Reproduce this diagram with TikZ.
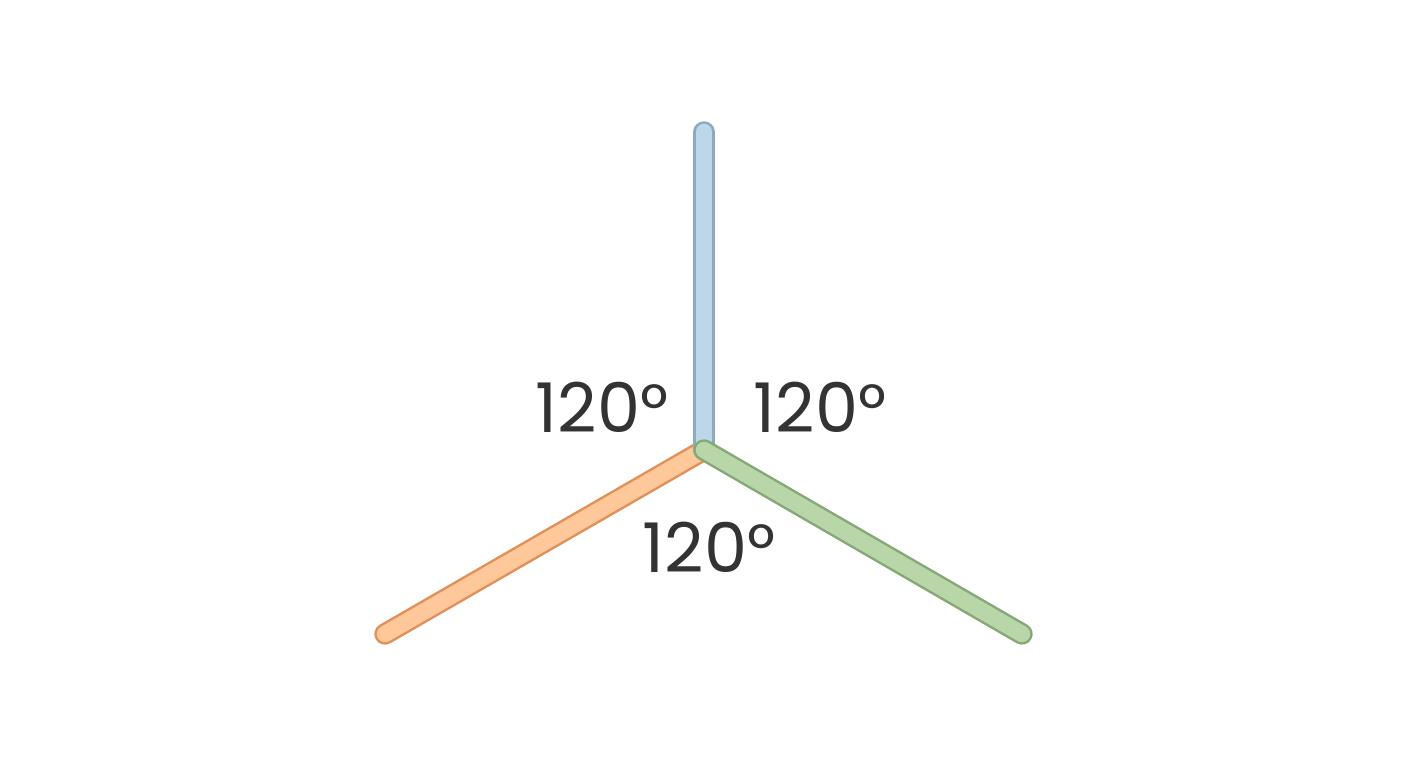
\documentclass[tikz,border=0pt]{standalone}
\usepackage{fontspec}
\setmainfont{Poppins}
\usetikzlibrary{positioning,calc}
\definecolor{bluefill}{HTML}{BDD7EA}
\definecolor{blueline}{HTML}{8FA9BF}
\definecolor{orangefill}{HTML}{FFC89A}
\definecolor{orangeline}{HTML}{E0915A}
\definecolor{greenfill}{HTML}{B8D6A8}
\definecolor{greenline}{HTML}{86A877}
\definecolor{textgray}{HTML}{333333}
\begin{document}
\begin{tikzpicture}
                       \tikzstyle{bar}=[line width=0.7pt, line cap=round, double distance=0.165cm]
                       \tikzstyle{angle}=[text=textgray, font=\fontsize{19.5}{23}\selectfont, inner sep=0pt]
                       \useasboundingbox (0,0) rectangle (14.08,7.68);

                        % Punkte
                        \coordinate (o) at (7.04,3.18);
                        \coordinate (top) at (7.04,6.36);
                        \coordinate (left) at (3.85,1.34);
                        \coordinate (right) at (10.22,1.34);

                        % Balken
                        \draw[bar, draw=orangeline, double=orangefill] (o) -- (left);
                        \draw[bar, draw=blueline, double=bluefill] (top) -- (o);
                        \draw[bar, draw=greenline, double=greenfill] (o) -- (right);

                        % Winkel
                        \node[angle] (a1) at (6.02,3.61) {120°};
                        \node[angle] (a2) at (8.20,3.61) {120°};
                        \node[angle] (a3) at (7.09,2.21) {120°};
                  \end{tikzpicture}
\end{document}
